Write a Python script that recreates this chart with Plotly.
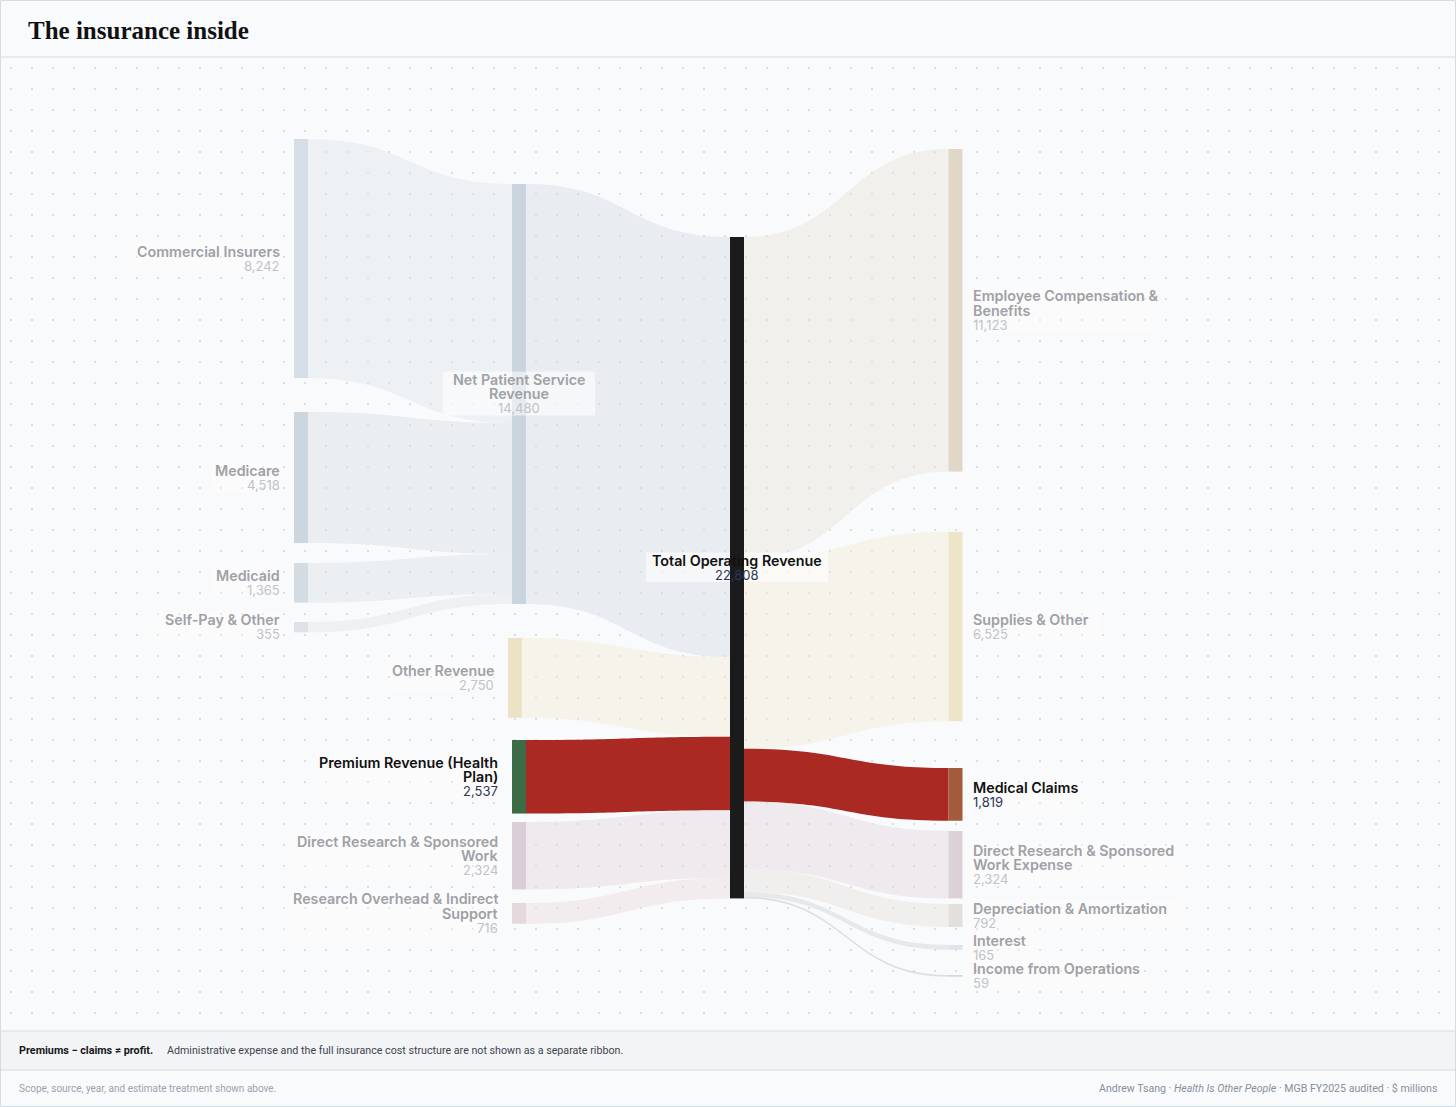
import numpy as np
import plotly.graph_objects as go

# ---- data: nodes and flows ($ millions, MGB FY2025) ----
node_names = [
    "Commercial Insurers", "Medicare", "Medicaid", "Self-Pay & Other",
    "Net Patient Service|Revenue", "Other Revenue", "Premium Revenue (Health|Plan)",
    "Direct Research & Sponsored|Work", "Research Overhead & Indirect|Support",
    "Total Operating Revenue",
    "Employee Compensation &|Benefits", "Supplies & Other", "Medical Claims",
    "Direct Research & Sponsored|Work Expense", "Depreciation & Amortization",
    "Interest", "Income from Operations",
]
node_totals = [8242, 4518, 1365, 355, 14480, 2750, 2537, 2324, 716, 22808,
               11123, 6525, 1819, 2324, 792, 165, 59]

link_source = [0, 1, 2, 3, 4, 5, 6, 7, 8, 9, 9, 9, 9, 9, 9, 9]
link_target = [4, 4, 4, 4, 9, 9, 9, 9, 9, 10, 11, 12, 13, 14, 15, 16]
link_value = [8242, 4518, 1365, 355, 14480, 2750, 2537, 2324, 716,
              11123, 6525, 1819, 2324, 792, 165, 59]

highlight = [6, 9, 12]

# ---- layout / style ----
W, H = 1456, 1107
BG = "#f9fafb"
K = 0.029          # px per $m
THICK = 14

node_cx = [301] * 4 + [519, 515, 519, 519, 519, 737] + [955.5] * 7
node_top = [139, 412, 563, 622, 184, 638, 740, 822, 903, 237,
            149, 532, 768, 831, 904, 945, 975]
label_side = ["l"] * 4 + ["c"] + ["l"] * 4 + ["c"] + ["r"] * 7

node_colors = ["#d5dee6", "#ccd6df", "#d4dce3", "#dde2e8", "#c9d4dd", "#ece2c6",
               "#3c6b46", "#dacfd6", "#e6d9dd", "#1b1b1b", "#e1d7c9", "#eee4c8",
               "#a45b3b", "#dbd1d7", "#e1e0db", "#e0e3e9", "#ccdccc"]

link_look = ["#eef1f4", "#eaeef1", "#ebeff2", "#eef0f3", "#e9edf1", "#f6f3ea",
             None, "#efeaed", "#f2ecee", "#f2f0ec", "#f6f3eb", None,
             "#efeaed", "#f0efed", "#e6e8ea", "#dcdfe2"]
RED = "rgba(168,37,31,0.98)"


def tint(target, alpha=0.5, bg=BG):
    t = [int(target[i:i + 2], 16) for i in (1, 3, 5)]
    b = [int(bg[i:i + 2], 16) for i in (1, 3, 5)]
    c = [max(0, min(255, round(bb + (tt - bb) / alpha))) for tt, bb in zip(t, b)]
    return f"rgba({c[0]},{c[1]},{c[2]},{alpha})"


link_colors = [RED if c is None else tint(c) for c in link_look]

# node values as the sankey computes them
n_nodes = len(node_names)
v_in = [0] * n_nodes
v_out = [0] * n_nodes
for s, t, v in zip(link_source, link_target, link_value):
    v_out[s] += v
    v_in[t] += v
node_vals = [max(a, b) for a, b in zip(v_in, v_out)]

# first column = nodes without inputs; pick padding so the scale is K px per unit
first_col = [i for i in range(n_nodes) if v_in[i] == 0]
pad = (H - K * sum(node_vals[i] for i in first_col)) / (len(first_col) - 1)

node_x = [cx / W for cx in node_cx]
node_y = [(top + v * K / 2) / H for top, v in zip(node_top, node_vals)]

fig = go.Figure()

# dotted background texture
gx, gy = np.meshgrid(np.arange(11, W, 21), np.arange(68, 1031, 21))
fig.add_trace(go.Scatter(x=gx.ravel(), y=gy.ravel(), mode="markers",
                         marker=dict(size=2, color="#d0d4db"),
                         hoverinfo="skip", showlegend=False))

fig.add_trace(go.Sankey(
    arrangement="fixed",
    domain=dict(x=[0, 1], y=[0, 1]),
    node=dict(label=[""] * n_nodes, x=node_x, y=node_y, pad=pad, thickness=THICK,
              color=node_colors, line=dict(width=0), hoverinfo="none"),
    link=dict(source=link_source, target=link_target, value=link_value,
              color=link_colors, line=dict(width=0), hoverinfo="none"),
    textfont=dict(size=1, color="rgba(0,0,0,0)"),
))

shapes = []
annotations = []

LINE = 14.5
for i, name in enumerate(node_names):
    lines = name.split("|")
    val = f"{node_totals[i]:,}"
    n = len(lines) + 1
    cy = node_top[i] + node_vals[i] * K / 2
    ys = [cy + (j - (n - 1) / 2) * LINE for j in range(n)]
    side = label_side[i]
    hi = i in highlight
    name_col = "#111111" if hi else "#9fa1a6"
    val_col = "#2d3752" if hi else "#bfc3ca"
    left_edge = node_cx[i] - THICK / 2
    right_edge = node_cx[i] + THICK / 2
    if side == "l":
        x, anchor = left_edge - 14, "right"
    elif side == "r":
        x, anchor = right_edge + 10, "left"
    else:
        x, anchor = node_cx[i], "center"

    # faint label box
    w = max(max(len(s) for s in lines) * 7.4, len(val) * 7.0) + 12
    if anchor == "right":
        x0, x1 = x + 3 - w, x + 3
    elif anchor == "left":
        x0, x1 = x - 3, x - 3 + w
    else:
        x0, x1 = x - w / 2, x + w / 2
    y0, y1 = ys[0] - 8, ys[-1] + 7
    alpha = 0.55 if side == "c" else 0.3
    box = dict(type="rect", xref="x", yref="y", y0=y0, y1=y1, layer="above",
               fillcolor=f"rgba(255,255,255,{alpha})", line=dict(width=0))
    if side == "c" and hi:
        # keep the dark node unwashed
        shapes.append(dict(box, x0=x0, x1=left_edge))
        shapes.append(dict(box, x0=right_edge, x1=x1))
    else:
        shapes.append(dict(box, x0=x0, x1=x1))

    for j, s in enumerate(lines):
        annotations.append(dict(x=x, y=ys[j], xref="x", yref="y", text=s,
                                showarrow=False, xanchor=anchor, yanchor="middle",
                                borderpad=0, borderwidth=0,
                                font=dict(family="Inter", size=14.3, color=name_col,
                                          weight=600)))
    annotations.append(dict(x=x, y=ys[-1], xref="x", yref="y", text=val,
                            showarrow=False, xanchor=anchor, yanchor="middle",
                            borderpad=0, borderwidth=0,
                            font=dict(family="Inter", size=13, color=val_col)))

# header, footer bands and borders
BORDER = "#d6dce4"
shapes += [
    dict(type="rect", xref="x", yref="y", x0=0, x1=W, y0=1031, y1=1070,
         fillcolor="#f3f4f6", line=dict(width=0), layer="below"),
    dict(type="line", xref="x", yref="y", x0=0, x1=W, y0=57, y1=57,
         line=dict(color=BORDER, width=1)),
    dict(type="line", xref="x", yref="y", x0=0, x1=W, y0=1031, y1=1031,
         line=dict(color=BORDER, width=1)),
    dict(type="line", xref="x", yref="y", x0=0, x1=W, y0=1070, y1=1070,
         line=dict(color=BORDER, width=1)),
    dict(type="rect", xref="x", yref="y", x0=0.5, x1=W - 0.5, y0=0.5, y1=H - 0.5,
         line=dict(color=BORDER, width=1)),
]

annotations += [
    dict(x=26, y=30, xref="x", yref="y", text="The insurance inside", showarrow=False,
         xanchor="left", yanchor="middle",
         font=dict(family="Liberation Serif", size=25, color="#111111", weight=700)),
    dict(x=17, y=1050, xref="x", yref="y", text="<b>Premiums − claims ≠ profit.</b>",
         showarrow=False, xanchor="left", yanchor="middle",
         font=dict(family="Roboto", size=10.8, color="#15171a")),
    dict(x=165, y=1050, xref="x", yref="y",
         text="Administrative expense and the full insurance cost structure are not shown as a separate ribbon.",
         showarrow=False, xanchor="left", yanchor="middle",
         font=dict(family="Roboto", size=10.7, color="#3e4551")),
    dict(x=17, y=1088, xref="x", yref="y",
         text="Scope, source, year, and estimate treatment shown above.",
         showarrow=False, xanchor="left", yanchor="middle",
         font=dict(family="Roboto", size=10, color="#9aa2b0")),
    dict(x=1439, y=1088, xref="x", yref="y",
         text="Andrew Tsang · <i>Health Is Other People</i> · MGB FY2025 audited · $ millions",
         showarrow=False, xanchor="right", yanchor="middle",
         font=dict(family="Roboto", size=10.6, color="#8690a0")),
]

fig.update_layout(
    width=W, height=H,
    margin=dict(l=0, r=0, t=0, b=0),
    paper_bgcolor=BG, plot_bgcolor="rgba(0,0,0,0)",
    showlegend=False,
    xaxis=dict(range=[0, W], visible=False, fixedrange=True, domain=[0, 1]),
    yaxis=dict(range=[H, 0], visible=False, fixedrange=True, domain=[0, 1]),
    shapes=shapes, annotations=annotations,
)

fig.write_html("out.html", config={"displayModeBar": False},
               post_script="document.body.style.margin='0';")
